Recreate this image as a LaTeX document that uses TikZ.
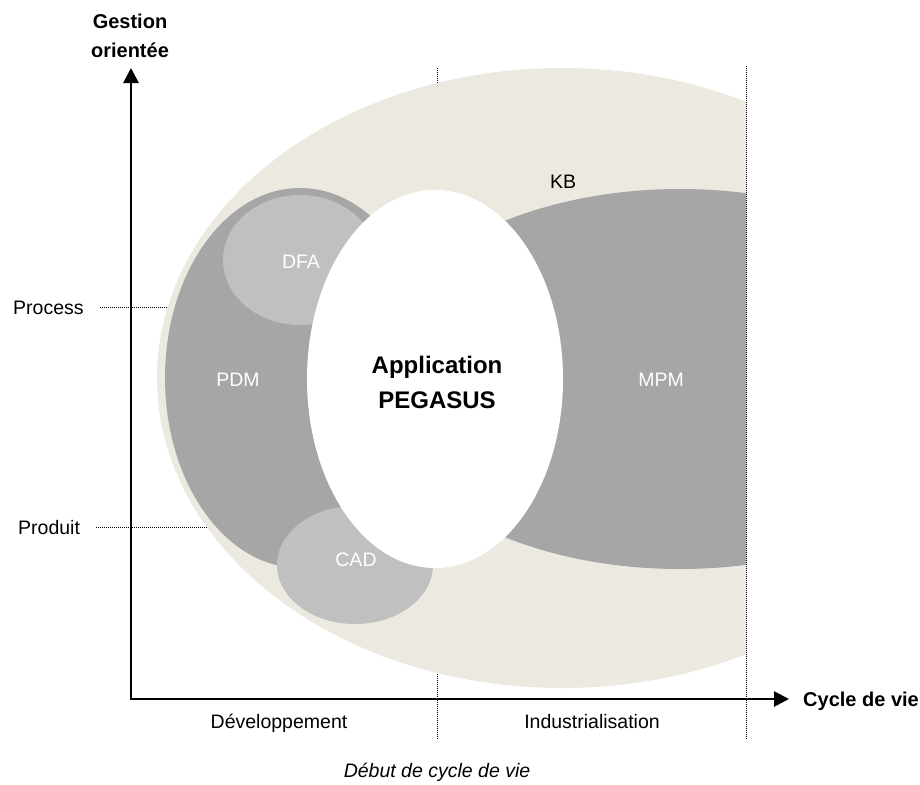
\documentclass[tikz,border=0pt]{standalone}
\usepackage{fontspec}
\setmainfont{Liberation Sans}
\usetikzlibrary{arrows.meta}
\definecolor{kbbeige}{RGB}{236,234,224}
\definecolor{pgray}{RGB}{166,166,166}
\definecolor{lgray}{RGB}{192,192,192}
\begin{document}
\begin{tikzpicture}[x=1pt,y=-1pt,
  lbl/.style={font=\fontsize{19.5}{23}\selectfont, inner sep=0pt},
  wlbl/.style={lbl, text=white},
  bld/.style={font=\fontsize{20}{24}\selectfont\bfseries, inner sep=0pt},
  appl/.style={font=\fontsize{24}{28}\selectfont\bfseries, inner sep=0pt},
  dotln/.style={line width=1pt, dash pattern=on 1pt off 1pt},
  axisln/.style={line width=2.7pt, {Triangle[length=15pt,width=15pt]}-{Triangle[length=15pt,width=15pt]}}]
\useasboundingbox (0,0) rectangle (920,784);
% middle dotted separator (below shapes)
\coordinate (mtop) at (437,68);
\coordinate (mbot) at (437,740);
\draw[dotln] (mtop) -- (mbot);
% level labels
\node[lbl, anchor=base west] (process) at (13,314) {Process};
\node[lbl, anchor=base west] (produit) at (18,534) {Produit};
\coordinate (pe) at (250,0);
\draw[dotln] ([xshift=16pt]process.east) -- (process.east -| pe);
\draw[dotln] ([xshift=16pt]produit.east) -- (produit.east -| pe);
% shapes
\begin{scope}
\clip (0,0) rectangle (746,784);
\fill[kbbeige] (562,378) ellipse [x radius=405pt, y radius=310pt];
\fill[pgray] (300,378) ellipse [x radius=135pt, y radius=190pt];
\fill[lgray] (300,260) ellipse [x radius=77pt, y radius=65pt];
\fill[lgray] (355,565) ellipse [x radius=78pt, y radius=59pt];
\fill[pgray] (680,379) ellipse [x radius=316pt, y radius=190pt];
\fill[white] (435,379) ellipse [x radius=128pt, y radius=189pt];
\end{scope}
% right dotted separator
\coordinate (rtop) at (746,66);
\coordinate (rbot) at (746,740);
\draw[dotln] (rtop) -- (rbot);
% axes
\coordinate (O) at (131,699);
\coordinate (ytip) at (131,68);
\coordinate (xtip) at (789,699);
\draw[axisln] (ytip) -- (O) -- (xtip);
% axis labels
\node[bld, anchor=base] (g1) at (130,29) {Gestion};
\node[bld, anchor=base] (g2) at (130,57) {orientée};
\node[bld, anchor=base west] (cyc) at (803,706) {Cycle de vie};
\node[lbl, anchor=base] (dev) at (279,728) {Développement};
\node[lbl, anchor=base] (ind) at (592,728) {Industrialisation};
\node[lbl, anchor=base, font=\fontsize{19.5}{23}\selectfont\itshape] (deb) at (437,777) {Début de cycle de vie};
% region labels
\node[lbl] (kb) at (563,182) {KB};
\node[wlbl] (dfa) at (301,262) {DFA};
\node[wlbl] (pdm) at (238,380) {PDM};
\node[wlbl] (cad) at (356,560) {CAD};
\node[wlbl] (mpm) at (661,380) {MPM};
\node[appl, anchor=base] (app1) at (437,373) {Application};
\node[appl, anchor=base] (app2) at (437,408) {PEGASUS};
\end{tikzpicture}
\end{document}
